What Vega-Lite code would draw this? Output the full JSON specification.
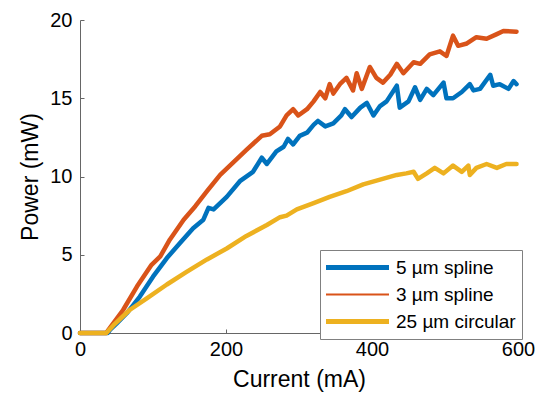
{
  "$schema": "https://vega.github.io/schema/vega-lite/v6.json",
  "width": 438,
  "height": 313,
  "autosize": {"type": "none"},
  "padding": {"left": 80, "top": 20, "right": 25, "bottom": 62},
  "config": {"view": {"stroke": null}, "font": "Liberation Sans"},
  "datasets": {
    "curves": [
      {"I": 0, "P": 0, "s": "5 µm spline"},
      {"I": 38, "P": 0, "s": "5 µm spline"},
      {"I": 41, "P": 0.2, "s": "5 µm spline"},
      {"I": 50, "P": 0.6, "s": "5 µm spline"},
      {"I": 64, "P": 1.26, "s": "5 µm spline"},
      {"I": 82, "P": 2.33, "s": "5 µm spline"},
      {"I": 100, "P": 3.6, "s": "5 µm spline"},
      {"I": 119, "P": 4.79, "s": "5 µm spline"},
      {"I": 137, "P": 5.75, "s": "5 µm spline"},
      {"I": 155, "P": 6.7, "s": "5 µm spline"},
      {"I": 169, "P": 7.24, "s": "5 µm spline"},
      {"I": 176, "P": 8.0, "s": "5 µm spline"},
      {"I": 183, "P": 7.9, "s": "5 µm spline"},
      {"I": 201, "P": 8.7, "s": "5 µm spline"},
      {"I": 219, "P": 9.7, "s": "5 µm spline"},
      {"I": 237, "P": 10.3, "s": "5 µm spline"},
      {"I": 249, "P": 11.2, "s": "5 µm spline"},
      {"I": 256, "P": 10.8, "s": "5 µm spline"},
      {"I": 269, "P": 11.6, "s": "5 µm spline"},
      {"I": 279, "P": 11.9, "s": "5 µm spline"},
      {"I": 285, "P": 12.4, "s": "5 µm spline"},
      {"I": 292, "P": 12.05, "s": "5 µm spline"},
      {"I": 301, "P": 12.6, "s": "5 µm spline"},
      {"I": 311, "P": 12.8, "s": "5 µm spline"},
      {"I": 320, "P": 13.3, "s": "5 µm spline"},
      {"I": 326, "P": 13.55, "s": "5 µm spline"},
      {"I": 336, "P": 13.2, "s": "5 µm spline"},
      {"I": 347, "P": 13.4, "s": "5 µm spline"},
      {"I": 358, "P": 13.9, "s": "5 µm spline"},
      {"I": 363, "P": 14.3, "s": "5 µm spline"},
      {"I": 372, "P": 13.8, "s": "5 µm spline"},
      {"I": 384, "P": 14.4, "s": "5 µm spline"},
      {"I": 393, "P": 14.7, "s": "5 µm spline"},
      {"I": 402, "P": 13.9, "s": "5 µm spline"},
      {"I": 411, "P": 14.5, "s": "5 µm spline"},
      {"I": 420, "P": 14.8, "s": "5 µm spline"},
      {"I": 434, "P": 15.8, "s": "5 µm spline"},
      {"I": 438, "P": 14.4, "s": "5 µm spline"},
      {"I": 450, "P": 14.8, "s": "5 µm spline"},
      {"I": 459, "P": 15.7, "s": "5 µm spline"},
      {"I": 466, "P": 14.9, "s": "5 µm spline"},
      {"I": 475, "P": 15.6, "s": "5 µm spline"},
      {"I": 484, "P": 15.2, "s": "5 µm spline"},
      {"I": 498, "P": 16.0, "s": "5 µm spline"},
      {"I": 502, "P": 15.0, "s": "5 µm spline"},
      {"I": 511, "P": 15.0, "s": "5 µm spline"},
      {"I": 523, "P": 15.4, "s": "5 µm spline"},
      {"I": 534, "P": 15.9, "s": "5 µm spline"},
      {"I": 539, "P": 15.5, "s": "5 µm spline"},
      {"I": 548, "P": 15.6, "s": "5 µm spline"},
      {"I": 562, "P": 16.5, "s": "5 µm spline"},
      {"I": 566, "P": 15.8, "s": "5 µm spline"},
      {"I": 575, "P": 15.9, "s": "5 µm spline"},
      {"I": 587, "P": 15.6, "s": "5 µm spline"},
      {"I": 594, "P": 16.1, "s": "5 µm spline"},
      {"I": 598, "P": 15.9, "s": "5 µm spline"},

      {"I": 0, "P": 0, "s": "3 µm spline"},
      {"I": 36, "P": 0, "s": "3 µm spline"},
      {"I": 39, "P": 0.2, "s": "3 µm spline"},
      {"I": 59, "P": 1.47, "s": "3 µm spline"},
      {"I": 78, "P": 2.97, "s": "3 µm spline"},
      {"I": 98, "P": 4.36, "s": "3 µm spline"},
      {"I": 110, "P": 4.9, "s": "3 µm spline"},
      {"I": 123, "P": 5.96, "s": "3 µm spline"},
      {"I": 142, "P": 7.24, "s": "3 µm spline"},
      {"I": 158, "P": 8.1, "s": "3 µm spline"},
      {"I": 174, "P": 9.06, "s": "3 µm spline"},
      {"I": 192, "P": 10.1, "s": "3 µm spline"},
      {"I": 210, "P": 10.9, "s": "3 µm spline"},
      {"I": 228, "P": 11.7, "s": "3 µm spline"},
      {"I": 249, "P": 12.6, "s": "3 µm spline"},
      {"I": 260, "P": 12.7, "s": "3 µm spline"},
      {"I": 274, "P": 13.2, "s": "3 µm spline"},
      {"I": 283, "P": 13.9, "s": "3 µm spline"},
      {"I": 292, "P": 14.3, "s": "3 µm spline"},
      {"I": 299, "P": 13.9, "s": "3 µm spline"},
      {"I": 311, "P": 14.3, "s": "3 µm spline"},
      {"I": 320, "P": 14.8, "s": "3 µm spline"},
      {"I": 329, "P": 15.4, "s": "3 µm spline"},
      {"I": 336, "P": 15.0, "s": "3 µm spline"},
      {"I": 342, "P": 15.9, "s": "3 µm spline"},
      {"I": 347, "P": 15.3, "s": "3 µm spline"},
      {"I": 356, "P": 15.9, "s": "3 µm spline"},
      {"I": 365, "P": 16.3, "s": "3 µm spline"},
      {"I": 374, "P": 15.5, "s": "3 µm spline"},
      {"I": 379, "P": 16.6, "s": "3 µm spline"},
      {"I": 386, "P": 15.6, "s": "3 µm spline"},
      {"I": 397, "P": 17.0, "s": "3 µm spline"},
      {"I": 406, "P": 16.3, "s": "3 µm spline"},
      {"I": 415, "P": 16.0, "s": "3 µm spline"},
      {"I": 425, "P": 16.5, "s": "3 µm spline"},
      {"I": 434, "P": 17.2, "s": "3 µm spline"},
      {"I": 443, "P": 16.6, "s": "3 µm spline"},
      {"I": 457, "P": 17.3, "s": "3 µm spline"},
      {"I": 466, "P": 17.2, "s": "3 µm spline"},
      {"I": 479, "P": 17.8, "s": "3 µm spline"},
      {"I": 493, "P": 18.0, "s": "3 µm spline"},
      {"I": 502, "P": 17.7, "s": "3 µm spline"},
      {"I": 511, "P": 19.0, "s": "3 µm spline"},
      {"I": 518, "P": 18.35, "s": "3 µm spline"},
      {"I": 530, "P": 18.5, "s": "3 µm spline"},
      {"I": 543, "P": 18.9, "s": "3 µm spline"},
      {"I": 557, "P": 18.8, "s": "3 µm spline"},
      {"I": 571, "P": 19.1, "s": "3 µm spline"},
      {"I": 580, "P": 19.3, "s": "3 µm spline"},
      {"I": 598, "P": 19.25, "s": "3 µm spline"},

      {"I": 0, "P": 0, "s": "25 µm circular"},
      {"I": 36, "P": 0, "s": "25 µm circular"},
      {"I": 46, "P": 0.5, "s": "25 µm circular"},
      {"I": 68, "P": 1.47, "s": "25 µm circular"},
      {"I": 91, "P": 2.2, "s": "25 µm circular"},
      {"I": 119, "P": 3.1, "s": "25 µm circular"},
      {"I": 146, "P": 3.9, "s": "25 µm circular"},
      {"I": 174, "P": 4.7, "s": "25 µm circular"},
      {"I": 201, "P": 5.4, "s": "25 µm circular"},
      {"I": 228, "P": 6.2, "s": "25 µm circular"},
      {"I": 256, "P": 6.9, "s": "25 µm circular"},
      {"I": 274, "P": 7.4, "s": "25 µm circular"},
      {"I": 283, "P": 7.5, "s": "25 µm circular"},
      {"I": 297, "P": 7.9, "s": "25 µm circular"},
      {"I": 320, "P": 8.3, "s": "25 µm circular"},
      {"I": 342, "P": 8.7, "s": "25 µm circular"},
      {"I": 365, "P": 9.06, "s": "25 µm circular"},
      {"I": 388, "P": 9.5, "s": "25 µm circular"},
      {"I": 411, "P": 9.8, "s": "25 µm circular"},
      {"I": 434, "P": 10.1, "s": "25 µm circular"},
      {"I": 447, "P": 10.2, "s": "25 µm circular"},
      {"I": 457, "P": 10.3, "s": "25 µm circular"},
      {"I": 463, "P": 9.85, "s": "25 µm circular"},
      {"I": 475, "P": 10.2, "s": "25 µm circular"},
      {"I": 486, "P": 10.55, "s": "25 µm circular"},
      {"I": 498, "P": 10.2, "s": "25 µm circular"},
      {"I": 511, "P": 10.7, "s": "25 µm circular"},
      {"I": 523, "P": 10.3, "s": "25 µm circular"},
      {"I": 532, "P": 10.7, "s": "25 µm circular"},
      {"I": 534, "P": 10.1, "s": "25 µm circular"},
      {"I": 543, "P": 10.55, "s": "25 µm circular"},
      {"I": 557, "P": 10.8, "s": "25 µm circular"},
      {"I": 571, "P": 10.55, "s": "25 µm circular"},
      {"I": 584, "P": 10.8, "s": "25 µm circular"},
      {"I": 598, "P": 10.8, "s": "25 µm circular"}
    ]
  },
  "data": {"name": "curves"},
  "mark": {"type": "line", "strokeWidth": 4.5, "strokeJoin": "round", "strokeCap": "round"},
  "encoding": {
    "x": {
      "field": "I", "type": "quantitative",
      "scale": {"domain": [0, 600], "nice": false},
      "axis": {
        "title": "Current (mA)", "values": [0, 200, 400, 600], "grid": false,
        "tickSize": -4, "domainColor": "#666", "tickColor": "#666",
        "labelFontSize": 20, "labelColor": "#000", "labelPadding": 10, "labelFlush": false,
        "titleFontSize": 23, "titleFontWeight": "normal", "titleColor": "#000", "titlePadding": 9
      }
    },
    "y": {
      "field": "P", "type": "quantitative",
      "scale": {"domain": [0, 20], "nice": false},
      "axis": {
        "title": "Power (mW)", "values": [0, 5, 10, 15, 20], "grid": false,
        "tickSize": -4, "domainColor": "#666", "tickColor": "#666",
        "labelFontSize": 20, "labelColor": "#000", "labelPadding": 12, "labelFlush": false,
        "titleFontSize": 23, "titleFontWeight": "normal", "titleColor": "#000", "titlePadding": 7
      }
    },
    "color": {
      "field": "s", "type": "nominal",
      "scale": {"domain": ["5 µm spline", "3 µm spline", "25 µm circular"], "range": ["#0072BD", "#D95319", "#EDB120"]},
      "legend": {
        "title": null, "orient": "none", "legendX": 240, "legendY": 230,
        "symbolType": "stroke", "symbolSize": 3969, "symbolStrokeWidth": 5, "symbolOffset": 22,
        "labelFontSize": 19, "labelColor": "#000", "labelOffset": 29,
        "strokeColor": "#808080", "fillColor": "#fff", "padding": 6, "rowPadding": 4, "clipHeight": 23,
        "encode": {"symbols": {"update": {"strokeWidth": {"signal": "datum.value === '3 µm spline' ? 2 : 5"}}}}
      }
    }
  }
}
